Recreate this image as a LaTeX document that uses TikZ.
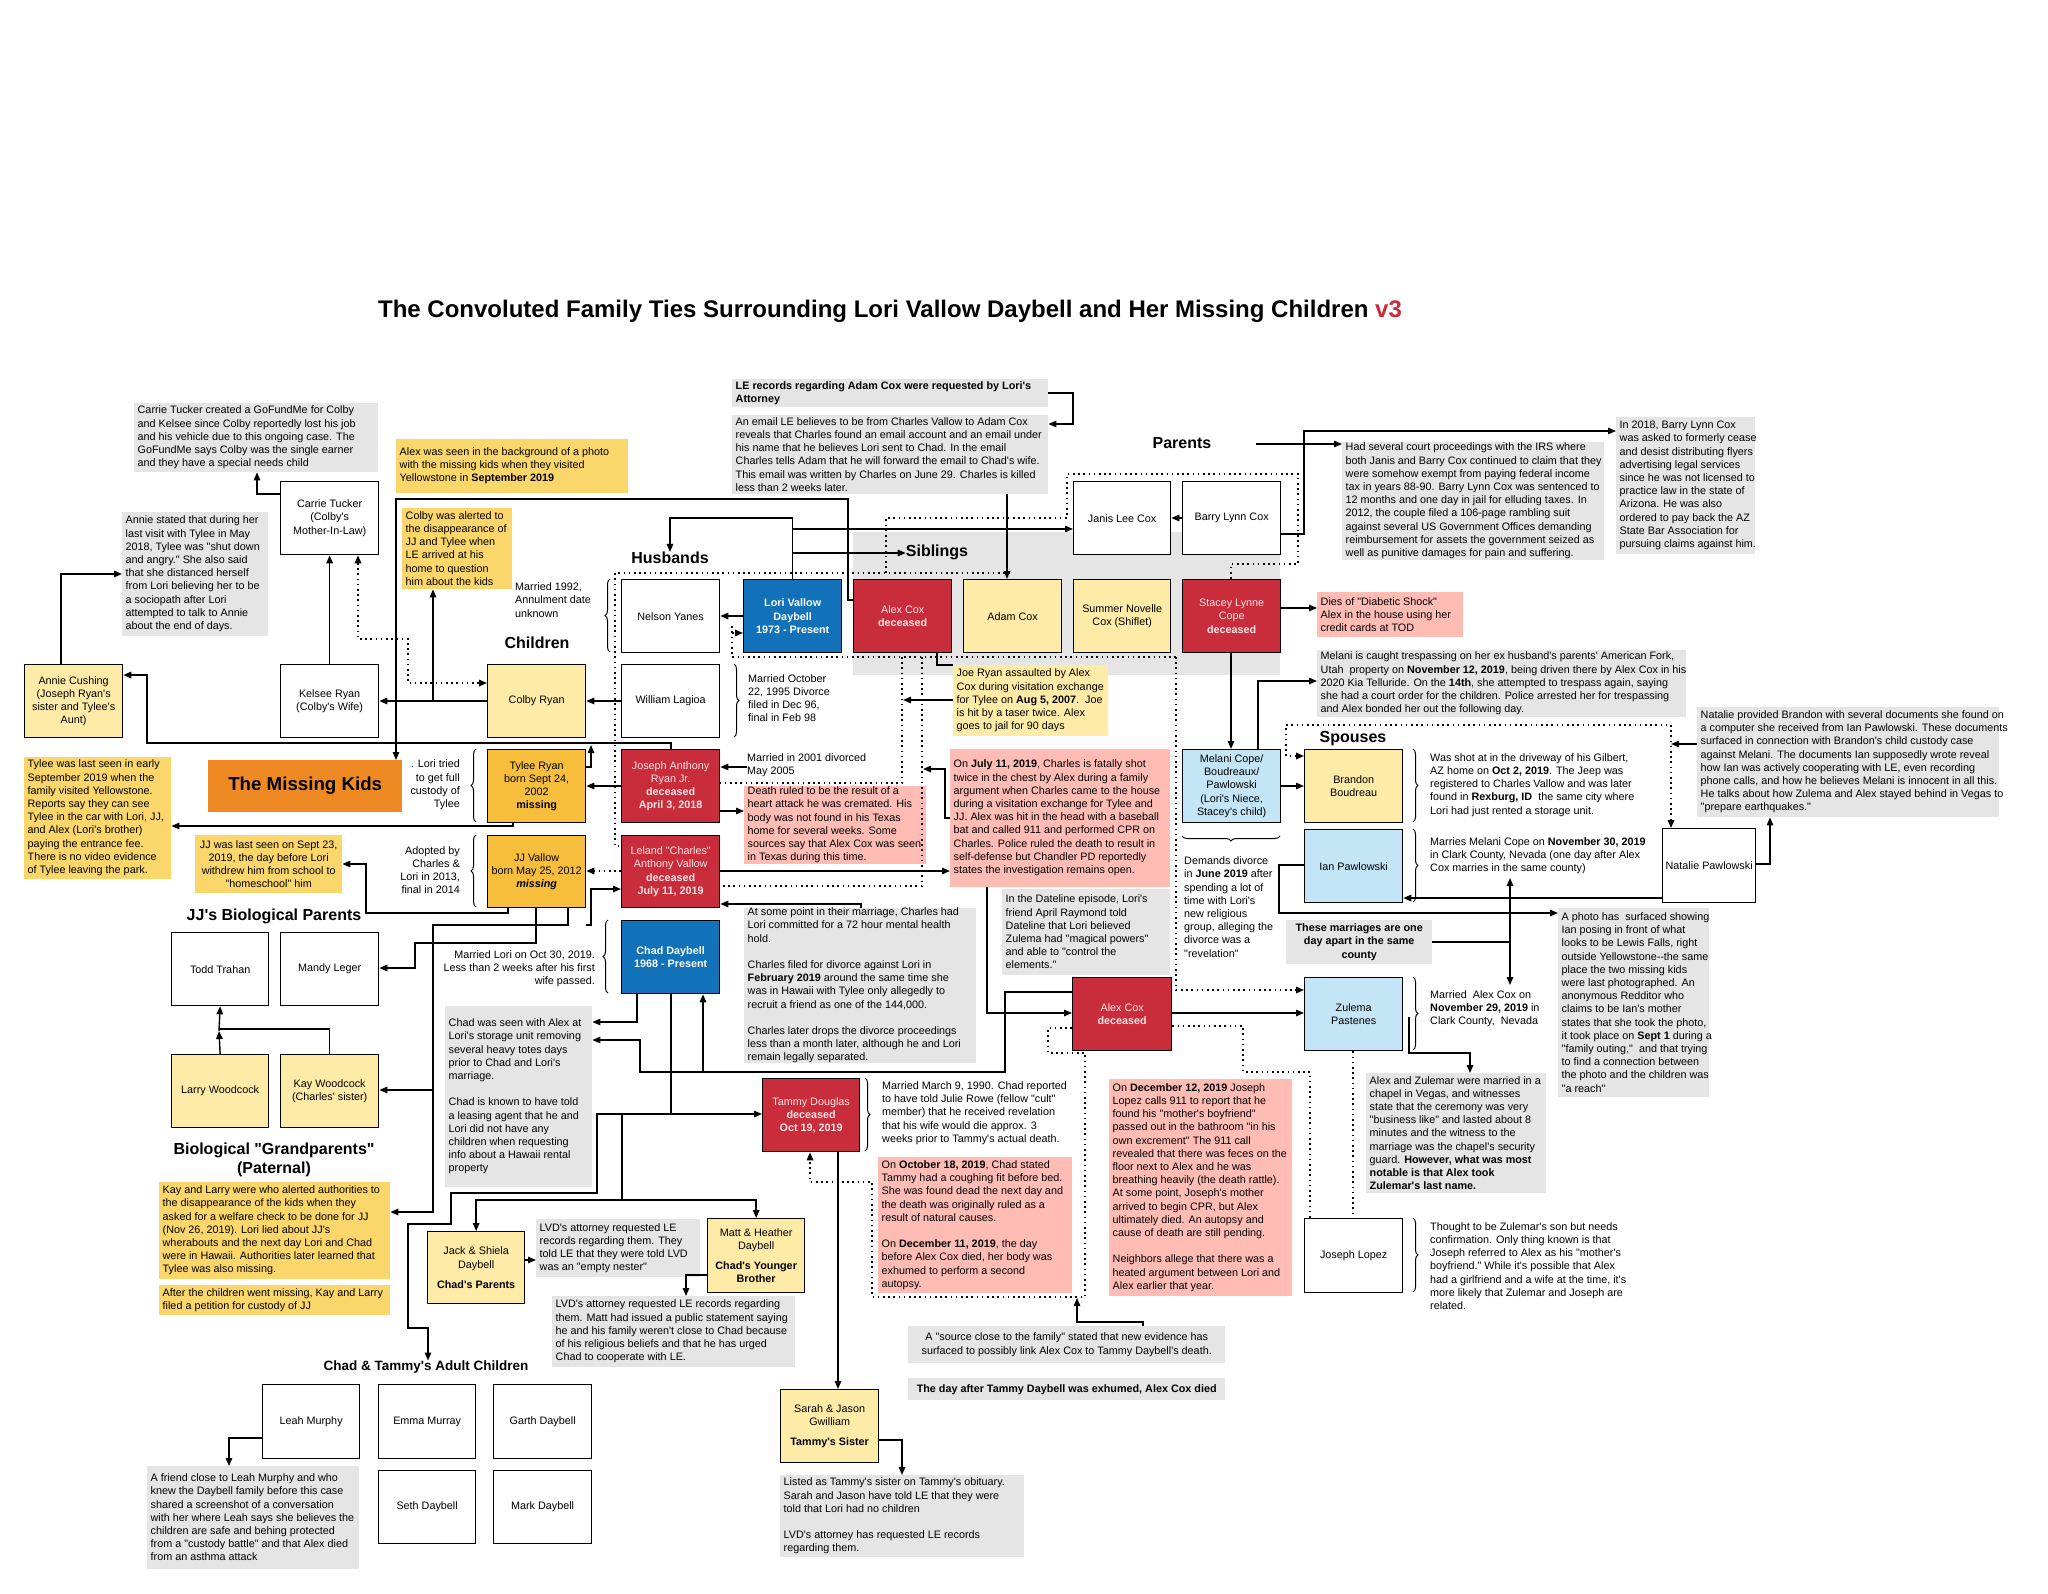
\documentclass[tikz,border=0pt]{standalone}
\usepackage{fontspec}
\setmainfont{Liberation Sans}
\newfontfamily\lsf{Liberation Sans}
\usetikzlibrary{arrows.meta,decorations.pathreplacing}
\definecolor{grayn}{RGB}{229,229,229}
\definecolor{ylight}{RGB}{255,235,168}
\definecolor{ynotec}{RGB}{251,214,106}
\definecolor{yorange}{RGB}{247,190,60}
\definecolor{orangek}{RGB}{239,137,35}
\definecolor{redc}{RGB}{201,44,58}
\definecolor{redtxt}{RGB}{255,228,230}
\definecolor{bluec}{RGB}{17,114,185}
\definecolor{lblue}{RGB}{196,229,246}
\definecolor{pinkn}{RGB}{255,188,180}
\newcommand\fsn{\lsf\fontsize{10.8}{13.2}\selectfont}
\newcommand\fhd{\lsf\fontsize{16}{19}\selectfont\bfseries}
\newcommand\mk[7]{%
 \pgfmathsetmacro\mkw{#5-#3}\pgfmathsetmacro\mkh{#6-#4}%
 \node[#1,anchor=north west,minimum width=\mkw pt,minimum height=\mkh pt] (#2) at (#3,#4) {#7};}
\newcommand\mkn[7]{%
 \pgfmathsetmacro\mkw{#5-#3}\pgfmathsetmacro\mkh{#6-#4}%
 \pgfmathsetmacro\mky{(#4+#6)/2}\pgfmathsetmacro\mkx{#3+3.5}%
 \node[#1,anchor=north west,minimum width=\mkw pt,minimum height=\mkh pt] (#2) at (#3,#4) {};
 \node[#1,fill=none,anchor=west,inner sep=0pt] (#2-t) at (\mkx,\mky) {#7};}
\begin{document}
\begin{tikzpicture}[x=1pt,y=-1pt,
 wbox/.style={draw=black,line width=1.3pt,fill=white,align=center,inner sep=2pt,font=\fsn},
 ybox/.style={wbox,fill=ylight},
 obox/.style={wbox,fill=yorange},
 rbox/.style={wbox,fill=redc,text=redtxt},
 bbox/.style={wbox,fill=bluec,text=white,font=\fsn\bfseries},
 lbox/.style={wbox,fill=lblue},
 gnote/.style={fill=grayn,align=left,inner sep=3pt,font=\fsn},
 ynote/.style={gnote,fill=ynotec},
 pnote/.style={gnote,fill=pinkn},
 lnote/.style={gnote,fill=ylight},
 lbl/.style={align=left,inner sep=0pt,font=\fsn},
 hd/.style={font=\fhd,inner sep=0pt},
 ln/.style={line width=1.4pt},
 ar/.style={ln,-{Triangle[length=8pt,width=6.5pt]}},
 arr2/.style={ln,{Triangle[length=8pt,width=6.5pt]}-{Triangle[length=8pt,width=6.5pt]}},
 dt/.style={line width=1.6pt,dash pattern=on 1.6pt off 3.6pt},
 dar/.style={dt,-{Triangle[length=8pt,width=6.5pt]}},
 darr/.style={dt,{Triangle[length=8pt,width=6.5pt]}-{Triangle[length=8pt,width=6.5pt]}},
 brc/.style={decorate,decoration={brace,amplitude=5pt},line width=1pt},
]
\useasboundingbox (0,0) rectangle (2048,1594);
\fill[white] (0,0) rectangle (2048,1594);
% title
\node[font=\lsf\fontsize{24}{28}\selectfont\bfseries,inner sep=0pt] (title) at (890,311) {The Convoluted Family Ties Surrounding Lori Vallow Daybell and Her Missing Children \textcolor{redc}{v3}};
% siblings background
\mk{fill=grayn,inner sep=0pt}{sibbg}{853}{532}{1280}{675}{}
% headings
\node[hd] (husbandshead) at (670,558) {Husbands};
\node[hd] (childrenhead) at (537,643) {Children};
\node[hd] (siblingshead) at (937,552) {Siblings};
\node[hd] (parentshead) at (1182,443) {Parents};
\node[hd] (spouseshead) at (1353,739) {Spouses};
\node[hd] (jjbiohead) at (274,916) {JJ's Biological Parents};
\node[hd,align=center] (grandhead) at (274,1160) {Biological "Grandparents"\\(Paternal)};
\node[font=\lsf\fontsize{13.5}{16}\selectfont\bfseries,inner sep=0pt] (adulthead) at (426,1367) {Chad \& Tammy's Adult Children};
% boxes
\mk{wbox}{carrie}{280}{481}{378}{554}{Carrie Tucker\\(Colby's\\Mother-In-Law)}
\mk{wbox}{kelsee}{280}{664}{378}{737}{Kelsee Ryan\\(Colby's Wife)}
\mk{ybox}{annie}{24}{664}{122}{737}{Annie Cushing\\(Joseph Ryan's\\sister and Tylee's\\Aunt)}
\mk{ybox}{colby}{487}{664}{585}{737}{Colby Ryan}
\mk{obox}{tylee}{487}{749}{585}{822}{Tylee Ryan\\born Sept 24,\\2002\\\textbf{missing}}
\mk{obox}{jj}{487}{835}{585}{907}{JJ Vallow\\born May 25, 2012\\\textbf{\textit{missing}}}
\mk{fill=orangek,inner sep=0pt,font=\lsf\fontsize{18.7}{22}\selectfont\bfseries}{missing}{208}{760}{402}{812}{The Missing Kids}
\mk{wbox}{nelson}{621}{579}{719}{652}{Nelson Yanes}
\mk{bbox}{lori}{743}{579}{841}{652}{Lori Vallow\\Daybell\\1973 - Present}
\mk{rbox}{alexa}{853}{579}{951}{652}{Alex Cox\\\textbf{deceased}}
\mk{ybox}{adam}{963}{579}{1061}{652}{Adam Cox}
\mk{ybox}{summer}{1073}{579}{1170}{652}{Summer Novelle\\Cox (Shiflet)}
\mk{rbox}{stacey}{1182}{579}{1280}{652}{Stacey Lynne\\Cope\\\textbf{deceased}}
\mk{wbox}{janis}{1073}{481}{1170}{554}{Janis Lee Cox}
\mk{wbox}{barry}{1182}{481}{1280}{554}{Barry Lynn Cox}
\mk{wbox}{william}{621}{664}{719}{737}{William Lagioa}
\mk{rbox}{joseph}{621}{749}{719}{822}{Joseph Anthony\\Ryan Jr.\\\textbf{deceased}\\\textbf{April 3, 2018}}
\mk{rbox}{leland}{621}{835}{719}{907}{Leland "Charles"\\Anthony Vallow\\\textbf{deceased}\\\textbf{July 11, 2019}}
\mk{bbox}{chad}{621}{920}{719}{993}{Chad Daybell\\1968 - Present}
\mk{wbox}{todd}{171}{932}{268}{1005}{Todd Trahan}
\mk{wbox}{mandy}{280}{932}{378}{1005}{Mandy Leger}
\mk{ybox}{larry}{171}{1054}{268}{1127}{Larry Woodcock}
\mk{ybox}{kay}{280}{1054}{378}{1127}{Kay Woodcock\\(Charles' sister)}
\mk{rbox}{tammy}{762}{1078}{859}{1151}{Tammy Douglas\\\textbf{deceased}\\\textbf{Oct 19, 2019}}
\mk{ybox}{jack}{427}{1231}{524}{1303}{Jack \& Shiela\\Daybell\\[7pt]\textbf{Chad's Parents}}
\mk{ybox}{matt}{707}{1218}{804}{1292}{Matt \& Heather\\Daybell\\[7pt]\textbf{Chad's Younger}\\\textbf{Brother}}
\mk{ybox}{sarah}{780}{1389}{878}{1462}{Sarah \& Jason\\Gwilliam\\[7pt]\textbf{Tammy's Sister}}
\mk{wbox}{leah}{262}{1384}{359}{1458}{Leah Murphy}
\mk{wbox}{emma}{378}{1384}{475}{1458}{Emma Murray}
\mk{wbox}{garth}{493}{1384}{591}{1458}{Garth Daybell}
\mk{wbox}{seth}{378}{1470}{475}{1543}{Seth Daybell}
\mk{wbox}{mark}{493}{1470}{591}{1543}{Mark Daybell}
\mk{lbox}{melani}{1182}{749}{1280}{822}{Melani Cope/\\Boudreaux/\\Pawlowski\\(Lori's Niece,\\Stacey's child)}
\mk{ybox}{brandon}{1304}{749}{1402}{822}{Brandon\\Boudreau}
\mk{lbox}{ian}{1304}{829}{1402}{902}{Ian Pawlowski}
\mk{wbox}{natalie}{1662}{828}{1755}{902}{Natalie Pawlowski}
\mk{rbox}{alexb}{1072}{977}{1171}{1050}{Alex Cox\\\textbf{deceased}}
\mk{lbox}{zulema}{1304}{977}{1402}{1050}{Zulema\\Pastenes}
\mk{wbox}{lopez}{1304}{1218}{1402}{1292}{Joseph Lopez}
% notes
\mkn{gnote}{ctnote}{134}{403}{378}{472}{Carrie Tucker created a GoFundMe for Colby\\and Kelsee since Colby reportedly lost his job\\and his vehicle due to this ongoing case. The\\GoFundMe says Colby was the single earner\\and they have a special needs child}
\mkn{ynote}{alexseen}{396}{439}{628}{493}{Alex was seen in the background of a photo\\with the missing kids when they visited\\Yellowstone in \textbf{September 2019}}
\mkn{gnote}{annienote}{122}{512}{268}{636}{Annie stated that during her\\last visit with Tylee in May\\2018, Tylee was "shut down\\and angry." She also said\\that she distanced herself\\from Lori believing her to be\\a sociopath after Lori\\attempted to talk to Annie\\about the end of days.}
\mkn{ynote}{colbyalert}{402}{508}{512}{589}{Colby was alerted to\\the disappearance of\\JJ and Tylee when\\LE arrived at his\\home to question\\him about the kids}
\mkn{gnote,font=\fsn\bfseries}{lenote}{732}{379}{1048}{407}{LE records regarding Adam Cox were requested by Lori's\\Attorney}
\mkn{gnote}{emailnote}{732}{415}{1048}{494}{An email LE believes to be from Charles Vallow to Adam Cox\\reveals that Charles found an email account and an email under\\his name that he believes Lori sent to Chad. In the email\\Charles tells Adam that he will forward the email to Chad's wife.\\This email was written by Charles on June 29. Charles is killed\\less than 2 weeks later.}
\mkn{gnote}{irsnote}{1342}{442}{1604}{560}{Had several court proceedings with the IRS where\\both Janis and Barry Cox continued to claim that they\\were somehow exempt from paying federal income\\tax in years 88-90. Barry Lynn Cox was sentenced to\\12 months and one day in jail for elluding taxes. In\\2012, the couple filed a 106-page rambling suit\\against several US Government Offices demanding\\reimbursement for assets the government seized as\\well as punitive damages for pain and suffering.}
\mkn{gnote}{notetwo}{1616}{417}{1755}{554}{In 2018, Barry Lynn Cox\\was asked to formerly cease\\and desist distributing flyers\\advertising legal services\\since he was not licensed to\\practice law in the state of\\Arizona. He was also\\ordered to pay back the AZ\\State Bar Association for\\pursuing claims against him.}
\mkn{pnote}{diesnote}{1317}{592}{1463}{637}{Dies of "Diabetic Shock"\\Alex in the house using her\\credit cards at TOD}
\mkn{gnote}{tresnote}{1317}{650}{1686}{717}{Melani is caught trespassing on her ex husband's parents' American Fork,\\Utah\ \ property on \textbf{November 12, 2019}, being driven there by Alex Cox in his\\2020 Kia Telluride. On the \textbf{14th}, she attempted to trespass again, saying\\she had a court order for the children. Police arrested her for trespassing\\and Alex bonded her out the following day.}
\mkn{gnote}{natnote}{1697}{707}{1999}{817}{Natalie provided Brandon with several documents she found on\\a computer she received from Ian Pawlowski. These documents\\surfaced in connection with Brandon's child custody case\\against Melani. The documents Ian supposedly wrote reveal\\how Ian was actively cooperating with LE, even recording\\phone calls, and how he believes Melani is innocent in all this.\\He talks about how Zulema and Alex stayed behind in Vegas to\\"prepare earthquakes."}
\mkn{gnote}{photonote}{1558}{908}{1709}{1097}{A photo has\ \ surfaced showing\\Ian posing in front of what\\looks to be Lewis Falls, right\\outside Yellowstone-{}-the same\\place the two missing kids\\were last photographed. An\\anonymous Redditor who\\claims to be Ian's mother\\states that she took the photo,\\it took place on \textbf{Sept 1} during a\\"family outing,"\ \ and that trying\\to find a connection between\\the photo and the children was\\"a reach"}
\mkn{lnote}{joenote}{953}{665}{1108}{736}{Joe Ryan assaulted by Alex\\Cox during visitation exchange\\for Tylee on \textbf{Aug 5, 2007}.\ \ Joe\\is hit by a taser twice. Alex\\goes to jail for 90 days}
\mkn{pnote}{deathnote}{744}{786}{926}{864}{Death ruled to be the result of a\\heart attack he was cremated. His\\body was not found in his Texas\\home for several weeks. Some\\sources say that Alex Cox was seen\\in Texas during this time.}
\mkn{pnote}{julynote}{950}{749}{1170}{887}{On \textbf{July 11, 2019}, Charles is fatally shot\\twice in the chest by Alex during a family\\argument when Charles came to the house\\during a visitation exchange for Tylee and\\JJ. Alex was hit in the head with a baseball\\bat and called 911 and performed CPR on\\Charles. Police ruled the death to result in\\self-defense but Chandler PD reportedly\\states the investigation remains open.}
\mkn{gnote}{datenote}{1002}{889}{1170}{975}{In the Dateline episode, Lori's\\friend April Raymond told\\Dateline that Lori believed\\Zulema had "magical powers"\\and able to "control the\\elements."}
\mkn{gnote}{marnote}{744}{908}{976}{1063}{At some point in their marriage, Charles had\\Lori committed for a 72 hour mental health\\hold.\\[13.2pt]Charles filed for divorce against Lori in\\\textbf{February 2019} around the same time she\\was in Hawaii with Tylee only allegedly to\\recruit a friend as one of the 144,000.\\[13.2pt]Charles later drops the divorce proceedings\\less than a month later, although he and Lori\\remain legally separated.}
\mkn{gnote}{chadnote}{445}{1006}{592}{1187}{Chad was seen with Alex at\\Lori's storage unit removing\\several heavy totes days\\prior to Chad and Lori's\\marriage.\\[13.2pt]Chad is known to have told\\a leasing agent that he and\\Lori did not have any\\children when requesting\\info about a Hawaii rental\\property}
\mkn{ynote}{kaynote}{159}{1182}{390}{1279}{Kay and Larry were who alerted authorities to\\the disappearance of the kids when they\\asked for a welfare check to be done for JJ\\(Nov 26, 2019). Lori lied about JJ's\\wherabouts and the next day Lori and Chad\\were in Hawaii. Authorities later learned that\\Tylee was also missing.}
\mkn{ynote}{afternote}{159}{1285}{390}{1315}{After the children went missing, Kay and Larry\\filed a petition for custody of JJ}
\mk{ynote,align=center}{jjnote}{195}{835}{342}{893}{JJ was last seen on Sept 23,\\2019, the day before Lori\\withdrew him from school to\\"homeschool" him}
\mkn{ynote}{tyleenote}{24}{757}{171}{879}{Tylee was last seen in early\\September 2019 when the\\family visited Yellowstone.\\Reports say they can see\\Tylee in the car with Lori, JJ,\\and Alex (Lori's brother)\\paying the entrance fee.\\There is no video evidence\\of Tylee leaving the park.}
\mkn{gnote}{mattnotea}{536}{1219}{700}{1277}{LVD's attorney requested LE\\records regarding them. They\\told LE that they were told LVD\\was an "empty nester"}
\mkn{gnote}{mattnoteb}{552}{1296}{795}{1367}{LVD's attorney requested LE records regarding\\them. Matt had issued a public statement saying\\he and his family weren't close to Chad because\\of his religious beliefs and that he has urged\\Chad to cooperate with LE.}
\mkn{pnote}{octnote}{878}{1157}{1072}{1293}{On \textbf{October 18, 2019}, Chad stated\\Tammy had a coughing fit before bed.\\She was found dead the next day and\\the death was originally ruled as a\\result of natural causes.\\[13.2pt]On \textbf{December 11, 2019}, the day\\before Alex Cox died, her body was\\exhumed to perform a second\\autopsy.}
\mkn{pnote}{decnote}{1109}{1079}{1292}{1296}{On \textbf{December 12, 2019} Joseph\\Lopez calls 911 to report that he\\found his "mother's boyfriend"\\passed out in the bathroom "in his\\own excrement" The 911 call\\revealed that there was feces on the\\floor next to Alex and he was\\breathing heavily (the death rattle).\\At some point, Joseph's mother\\arrived to begin CPR, but Alex\\ultimately died. An autopsy and\\cause of death are still pending.\\[13.2pt]Neighbors allege that there was a\\heated argument between Lori and\\Alex earlier that year.}
\mkn{gnote}{zulnote}{1366}{1073}{1546}{1193}{Alex and Zulemar were married in a\\chapel in Vegas, and witnesses\\state that the ceremony was very\\"business like" and lasted about 8\\minutes and the witness to the\\marriage was the chapel's security\\guard. \textbf{However, what was most}\\\textbf{notable is that Alex took}\\\textbf{Zulemar's last name.}}
\mk{gnote,align=center}{sourcenote}{908}{1326}{1225}{1363}{A "source close to the family" stated that new evidence has\\surfaced to possibly link Alex Cox to Tammy Daybell's death.}
\mk{gnote,font=\fsn\bfseries}{daynote}{908}{1378}{1225}{1400}{The day after Tammy Daybell was exhumed, Alex Cox died}
\mkn{gnote}{sarahnote}{780}{1475}{1024}{1557}{Listed as Tammy's sister on Tammy's obituary.\\Sarah and Jason have told LE that they were\\told that Lori had no children\\[13.2pt]LVD's attorney has requested LE records\\regarding them.}
\mkn{gnote}{leahnote}{147}{1466}{359}{1569}{A friend close to Leah Murphy and who\\knew the Daybell family before this case\\shared a screenshot of a conversation\\with her where Leah says she believes the\\children are safe and behing protected\\from a "custody battle" and that Alex died\\from an asthma attack}
\mk{gnote,align=center,font=\fsn\bfseries}{marrbox}{1286}{920}{1432}{964}{These marriages are one\\day apart in the same\\county}
% plain labels
\node[lbl,anchor=west] (marrA) at (515,600) {Married 1992,\\Annulment date\\unknown};
\node[lbl,anchor=west] (marrB) at (748,698) {Married October\\22, 1995 Divorce\\filed in Dec 96,\\final in Feb 98};
\node[lbl,anchor=west] (marrC) at (747,765) {Married in 2001 divorced\\May 2005};
\node[lbl,align=right,anchor=east] (loritried) at (460,785) {. Lori tried\\to get full\\custody of\\Tylee};
\node[lbl,align=right,anchor=east] (adopted) at (460,870) {Adopted by\\Charles \&\\Lori in 2013,\\final in 2014};
\node[lbl,align=right,anchor=east] (marrD) at (595,969) {Married Lori on Oct 30, 2019.\\Less than 2 weeks after his first\\wife passed.};
\node[lbl,anchor=west] (tammytext) at (882,1113) {Married March 9, 1990. Chad reported\\to have told Julie Rowe (fellow "cult"\\member) that he received revelation\\that his wife would die approx. 3\\weeks prior to Tammy's actual death.};
\node[lbl,anchor=west] (melanitext) at (1184,907) {Demands divorce\\in \textbf{June 2019} after\\spending a lot of\\time with Lori's\\new religious\\group, alleging the\\divorce was a\\"revelation"};
\node[lbl,anchor=west] (brandontext) at (1430,785) {Was shot at in the driveway of his Gilbert,\\AZ home on \textbf{Oct 2, 2019}. The Jeep was\\registered to Charles Vallow and was later\\found in \textbf{Rexburg, ID}\ \ the same city where\\Lori had just rented a storage unit.};
\node[lbl,anchor=west] (iantext) at (1430,856) {Marries Melani Cope on \textbf{November 30, 2019}\\in Clark County, Nevada (one day after Alex\\Cox marries in the same county)};
\node[lbl,anchor=west] (zultext) at (1430,1009) {Married\ \ Alex Cox on\\\textbf{November 29, 2019} in\\Clark County,\ \ Nevada};
\node[lbl,anchor=west] (lopeztext) at (1430,1266) {Thought to be Zulemar's son but needs\\confirmation. Only thing known is that\\Joseph referred to Alex as his "mother's\\boyfriend." While it's possible that Alex\\had a girlfriend and a wife at the time, it's\\more likely that Zulemar and Joseph are\\related.};
% braces
\draw[brc] (610,652) -- (610,579);
\draw[brc] (734,664) -- (734,737);
\draw[brc] (476,822) -- (476,749);
\draw[brc] (476,907) -- (476,835);
\draw[brc] (608,993) -- (608,920);
\draw[brc] (865,1078) -- (865,1151);
\draw[brc] (1413,749) -- (1413,822);
\draw[brc] (1413,829) -- (1413,902);
\draw[brc] (1413,977) -- (1413,1050);
\draw[brc] (1413,1218) -- (1413,1292);
\draw[brc] (1280,836) -- (1182,836);
% solid connectors
\draw[ar] (carrie.west |- 0,494) -| (ctnote.south -| 257,0);
\draw[ar] (annie.north -| 61,0) |- (annienote.west |- 0,574);
\draw[ar] (kelsee.north) -- (carrie.south);
\draw[ar] (colby.west |- 0,701) -- (kelsee.east |- 0,701);
\draw[ar] (433,701) -- (colbyalert.south -| 433,0);
\draw[ar] (alexa.west |- 0,600) -| (848,499) -| (missing.north -| 396,0);
\draw[ar] (joseph.north -| 671,0) |- (147,743) |- (annie.east |- 0,675);
\draw[ar] (tylee.east |- 0,767) -| (591,745);
\draw[ar] (joseph.west |- 0,786) -- (tylee.east |- 0,786);
\draw[ar] (joseph.east |- 0,811) -- (deathnote.west |- 0,811);
\draw[ar] (marrC.west |- 0,767) -- (joseph.east |- 0,767);
\draw[ar] (leland.east |- 0,871) -- (julynote.west |- 0,871);
\draw[ar] (marnote.north -| 861,0) |- (leland.east |- 0,904);
\draw[ar] (jj.east |- 0,925) -| (591,889) -- (leland.west |- 0,889);
\draw[ar] (chad.south -| 637,0) |- (chadnote.east |- 0,1022);
\draw[ar] (alexb.west |- 0,992) -| (1005,1072) -| (640,1040) -- (chadnote.east |- 0,1040);
\draw[ar] (703,1072) -- (chad.south -| 703,0);
\draw[ar] (chad.south -| 671,0) |- (tammy.west |- 0,1114);
\draw[ar] (671,1114) -| (597,1193) -| (451,1224) -| (408,1328) -| (adulthead.north -| 428,0);
\draw[ar] (622,1114) |- (jack.north |- 0,1200) -- (jack.north);
\draw[ar] (622,1200) -| (matt.north);
\draw[ar] (jack.east |- 0,1260) -- (mattnotea.west |- 0,1260);
\draw[ar] (matt.west |- 0,1275) -| (mattnoteb.north -| 686,0);
\draw[ar] (tammy.south -| 838,0) -- (sarah.north -| 838,0);
\draw[ar] (sarah.east |- 0,1440) -| (sarahnote.north -| 902,0);
\draw[ar] (leah.west |- 0,1438) -| (leahnote.north -| 229,0);
\draw[ar] (jj.south -| 568,0) |- (433,925) |- (kaynote.east |- 0,1212);
\draw[ar] (433,1090) -- (kay.east |- 0,1090);
\draw[ar] (jj.south -| 536,0) |- (415,943) |- (mandy.east |- 0,968);
\draw[ar] (jj.south -| 508,0) |- (366,913) |- (jjnote.east |- 0,864);
\draw[ar] (tylee.south -| 513,0) |- (tyleenote.east |- 0,826);
\draw[ar] (larry.north) -- (219,1031);
\draw[ar] (219,1031) -- (todd.south);
\draw[ln] (kay.north) |- (219,1029);
\draw[ar] (lori.west |- 0,616) -- (nelson.east |- 0,616);
\draw[ar] (william.west |- 0,701) -- (colby.east |- 0,701);
\draw[ar] (lori.north) |- (670,518) -- (husbandshead.north -| 670,0);
\draw[ar] (792,529) -- (janis.west |- 0,529);
\draw[ar] (792,553) -- (siblingshead.west |- 0,553);
\draw[ar] (lenote.east |- 0,393) -| (1073,424) -- (emailnote.east |- 0,424);
\draw[ar] (emailnote.south -| 1007,0) -- (adam.north -| 1007,0);
\draw[ar] (barry.west |- 0,518) -- (janis.east |- 0,518);
\draw[ar] (barry.east |- 0,534) -| (1304,431) -- (notetwo.west |- 0,431);
\draw[ar] (1256,444) -- (irsnote.west |- 0,444);
\draw[ar] (stacey.east |- 0,608) -- (diesnote.west |- 0,608);
\draw[ar] (stacey.south -| 1231,0) -- (melani.north -| 1231,0);
\draw[ar] (melani.north -| 1258,0) |- (tresnote.west |- 0,681);
\draw[ar] (melani.east |- 0,786) -- (brandon.west |- 0,786);
\draw[ar] (natalie.west |- 0,898) -- (ian.east |- 0,898);
\draw[ar] (ian.west |- 0,865) -| (1279,913) -- (photonote.west |- 0,913);
\draw[ar] (natalie.east |- 0,864) -| (natnote.south -| 1770,0);
\draw[ar] (natnote.west |- 0,744) -- (1671,744);
\draw[ln] (marrbox.east |- 0,942) -- (1510,942);
\draw[arr2] (1510,878) -- (1510,985);
\draw[ar] (alexb.east |- 0,1013) -- (zulema.west |- 0,1013);
\draw[ar] (1409,1017) |- (1470,1053) -- (zulnote.north -| 1470,0);
\draw[ar] (julynote.south -| 987,0) |- (alexb.west |- 0,1013);
\draw[ln] (alexa.south -| 937,0) |- (joenote.north west);
\draw[ar] (joenote.west |- 0,700) -- (903,700);
\draw[ar] (julynote.west |- 0,818) -| (945,769) -- (923,769);
\draw[ar] (sourcenote.north -| 1143,0) -- (1143,1322) -| (1077,1298);
% dotted connectors
\draw[dt] (1010,573) -- (615,573) -- (615,846) -- (leland.west |- 0,846);
\draw[dt] (886,573) -- (886,518) -- (1067,518) -- (1067,474) -- (1298,474) -- (1298,564) -- (1231,564) -- (stacey.north -| 1231,0);
\draw[dt] (1176,657) -- (732,657) -- (732,625);
\draw[dar] (732,633) -- (lori.west |- 0,633);
\draw[dt] (902,657) |- (joseph.east |- 0,783);
\draw[dt] (922,657) |- (leland.east |- 0,886);
\draw[dar] (1176,657) |- (zulema.west |- 0,990);
\draw[dar] (leland.west |- 0,871) -- (jj.east |- 0,871);
\draw[darr] (carrie.south -| 358,0) -- (358,639) -| (408,683) -- (colby.west |- 0,683);
\draw[darr] (brandon.west |- 0,756) -- (1286,756) -- (1286,725) -- (1671,725) -- (natalie.north -| 1671,0);
\draw[dar] (alexb.west |- 0,1028) -- (1048,1028) -- (1048,1053) -- (1085,1053) -- (1085,1297) -- (872,1297) -- (872,1182) -- (810,1182) -- (tammy.south -| 810,0);
\draw[dt] (alexb.east |- 0,1026) -- (1243,1026) -- (1243,1072) -- (1310,1072) -- (lopez.north -| 1310,0);
\draw[dt] (zulema.south -| 1353,0) -- (lopez.north -| 1353,0);
\end{tikzpicture}
\end{document}
